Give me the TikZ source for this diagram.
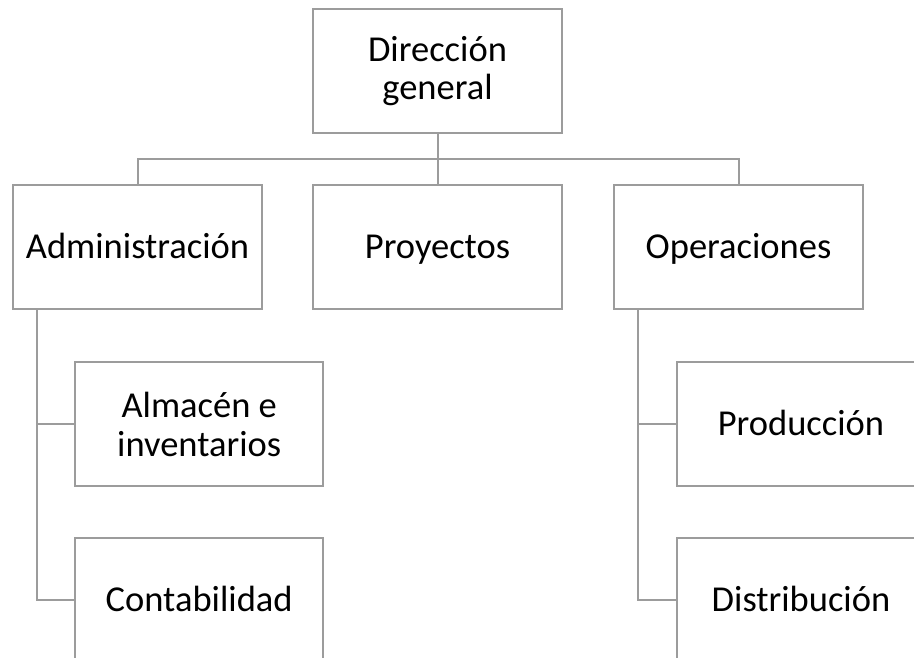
\documentclass[tikz,border=0pt]{standalone}
\usepackage{fontspec}
\setmainfont{Carlito}
\definecolor{linegray}{HTML}{9C9C9C}
\begin{document}
\begin{tikzpicture}[x=1pt,y=-1pt,
  orgbox/.style={draw=linegray, line width=2pt, fill=white, minimum width=248.5pt, minimum height=124.3pt,
    inner sep=0pt, align=center, font=\fontsize{36.5}{38.5}\selectfont},
  oneline/.style={orgbox, text height=24pt, text depth=0.8pt},
  twoline/.style={orgbox},
  conn/.style={draw=linegray, line width=2pt}]
\useasboundingbox (0,0) rectangle (914,658);
\clip (0,0) rectangle (914,658);
\node[twoline] (top) at (437.5,71.2) {Dirección\\general};
\node[oneline] (admin) at (137.5,246.7) {Administración};
\node[oneline] (proy) at (437.5,246.7) {Proyectos};
\node[oneline] (oper) at (738.5,246.7) {Operaciones};
\node[twoline] (alm) at (199.2,424.3) {Almacén e\\inventarios};
\node[oneline] (cont) at (199.2,600.3) {Contabilidad};
\node[oneline] (prod) at (801,424.3) {Producción};
\node[oneline] (dist) at (801,600.3) {Distribución};
\coordinate (bus) at (437.5,159.3);
\coordinate (la) at ([xshift=25pt]admin.south west);
\coordinate (ra) at ([xshift=25pt]oper.south west);
\draw[conn] (top.south) -- (bus);
\draw[conn] (admin.north) |- (bus) -| (oper.north);
\draw[conn] (bus) -- (proy.north);
\draw[conn] (la) |- (cont.west);
\draw[conn] (alm.west) -- (alm.west -| la);
\draw[conn] (ra) |- (dist.west);
\draw[conn] (prod.west) -- (prod.west -| ra);
\end{tikzpicture}
\end{document}
